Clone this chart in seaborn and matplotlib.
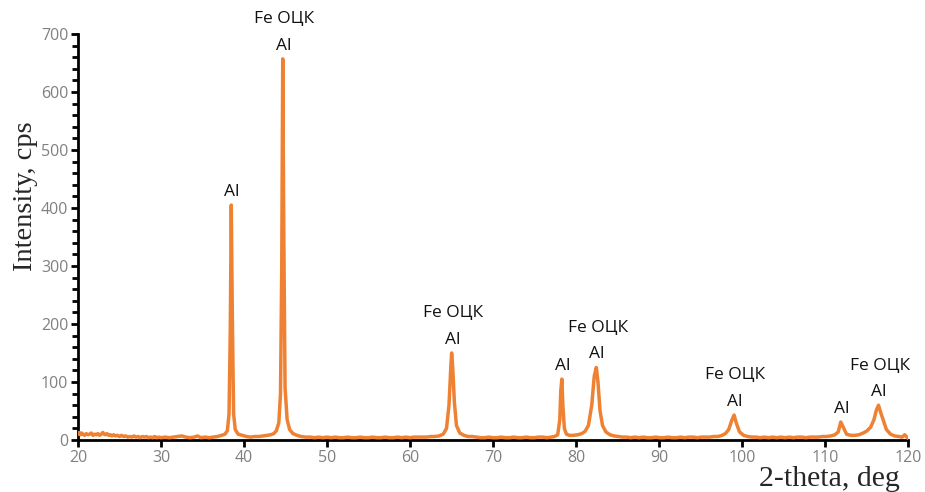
import matplotlib
matplotlib.use("Agg")
import matplotlib.pyplot as plt
from matplotlib.ticker import MultipleLocator
import seaborn as sns
import pandas as pd

# XRD pattern (2-theta in deg, intensity in cps)
two_theta = [
    20.0, 20.15, 20.3, 20.45, 20.6, 20.8, 21.0, 21.2, 21.4, 21.6, 21.8, 22.0, 22.2, 22.4,
    22.6, 22.8, 23.0, 23.15, 23.3, 23.5, 23.7, 23.9, 24.1, 24.3, 24.5, 24.75, 25.0,
    25.25, 25.5, 25.75, 26.0, 26.25, 26.5, 26.75, 27.0, 27.25, 27.5, 27.75, 28.0, 28.25,
    28.5, 28.75, 29.0, 29.25, 29.5, 29.75, 30.0, 30.5, 31.0, 31.5, 32.0,
    32.5, 33.0, 33.5, 34.0, 34.4, 34.8, 35.3, 35.8, 36.3, 36.8, 37.3, 37.7, 38.0, 38.2,
    38.35, 38.47, 38.6, 38.75, 38.95, 39.3, 39.8, 40.3, 40.8, 41.3, 41.8, 42.3, 42.8,
    43.2, 43.6, 43.9, 44.2, 44.4, 44.55, 44.67, 44.8, 44.95, 45.2, 45.5, 45.9, 46.4,
    46.9, 47.4, 48.0, 48.5, 49.0, 49.5, 50.0, 50.5, 51.0, 51.5, 52.0, 52.5, 53.0, 53.5,
    54.0, 54.5, 55.0, 55.5, 56.0, 56.5, 57.0, 57.5, 58.0, 58.5, 59.0, 59.5, 60.0, 60.5,
    61.0, 61.5, 62.0, 62.5, 63.0, 63.5, 64.0, 64.4, 64.7, 64.9, 65.02, 65.15, 65.35,
    65.6, 66.0, 66.5, 67.0, 67.5, 68.0, 68.5, 69.0, 69.5, 70.0, 70.5, 71.0, 71.5, 72.0,
    72.5, 73.0, 73.5, 74.0, 74.5, 75.0, 75.5, 76.0, 76.5, 77.0, 77.4, 77.8, 78.05,
    78.17, 78.3, 78.42, 78.6, 78.85, 79.2, 79.7, 80.2, 80.7, 81.1, 81.5, 81.9, 82.2,
    82.45, 82.65, 82.9, 83.2, 83.6, 84.1, 84.6, 85.1, 85.6, 86.1, 86.6, 87.1, 87.6,
    88.1, 88.6, 89.1, 89.6, 90.1, 90.6, 91.1, 91.6, 92.1, 92.6, 93.1, 93.6, 94.1, 94.6,
    95.1, 95.6, 96.1, 96.6, 97.1, 97.6, 98.0, 98.4, 98.8, 99.05, 99.3, 99.7, 100.2,
    100.7, 101.2, 101.7, 102.2, 102.7, 103.2, 103.7, 104.2, 104.7, 105.2, 105.7, 106.2,
    106.7, 107.2, 107.7, 108.2, 108.7, 109.2, 109.7, 110.2, 110.7, 111.2, 111.6, 111.9,
    112.2, 112.6, 113.1, 113.6, 114.1, 114.6, 115.0, 115.5, 115.9, 116.2, 116.45, 116.7,
    117.0, 117.4, 117.9, 118.4, 118.9, 119.3, 119.6, 120.0,
]
intensity = [
    10, 13, 9, 12, 10, 8, 11, 9, 10, 12, 8, 10, 9, 11,
    8, 10, 13, 10, 9, 11, 8, 9, 7, 9, 7, 8, 6,
    8, 6, 7, 5, 6, 5, 7, 5, 6, 4, 6, 5, 6,
    4, 5, 4, 6, 4, 5, 4, 5, 4, 5, 6,
    7, 5, 4, 5, 7, 4, 5, 4, 5, 6, 8, 10, 16, 45,
    190, 405, 210, 45, 18, 10, 8, 6, 5, 6, 6, 7, 8,
    9, 11, 16, 30, 80, 300, 657, 350, 90, 35, 18, 11, 8,
    6, 5, 5, 4, 5, 4, 5, 4, 5, 4, 4, 5, 4, 4,
    5, 4, 4, 5, 4, 4, 5, 4, 4, 5, 4, 5, 4, 5,
    5, 5, 5, 6, 6, 7, 10, 20, 60, 120, 150, 125, 65,
    25, 12, 8, 6, 6, 5, 4, 4, 5, 4, 4, 5, 4, 4,
    5, 4, 4, 5, 4, 4, 5, 5, 4, 5, 6, 9, 35,
    85, 105, 60, 20, 10, 8, 8, 9, 11, 15, 25, 60, 110,
    125, 100, 50, 25, 14, 9, 7, 6, 5, 5, 4, 5, 4,
    5, 4, 4, 5, 4, 4, 5, 4, 4, 5, 4, 5, 5, 4,
    5, 5, 5, 6, 6, 8, 11, 18, 35, 43, 30, 14, 8,
    6, 5, 5, 4, 5, 4, 5, 4, 5, 4, 5, 4,
    5, 5, 4, 5, 5, 5, 6, 6, 7, 9, 14, 31,
    22, 10, 8, 8, 9, 12, 15, 22, 35, 52, 60, 48,
    35, 18, 10, 7, 6, 5, 9, 3,
]

# phase labels placed above the peaks
peak_pos = [38.47, 44.67, 65.02, 78.3, 82.45, 99.05, 111.9, 116.45]
peak_top = [405, 657, 150, 105, 125, 43, 31, 60]
peak_fe = [False, True, True, False, True, True, False, True]

df = pd.DataFrame({"2theta": two_theta, "I": intensity})

sns.set_style("ticks")
plt.rcParams["font.family"] = ["Open Sans", "DejaVu Sans"]

fig = plt.figure(figsize=(9.25, 4.92), dpi=100)
ax = fig.add_axes([0.0843, 0.1057, 0.8973, 0.8253])

sns.lineplot(data=df, x="2theta", y="I", estimator=None, sort=False,
             color="#EF8133", linewidth=2.5, ax=ax, zorder=3)

for x, y, fe in zip(peak_pos, peak_top, peak_fe):
    ax.annotate("Al", (x, y), xytext=(0.5, 9.5), textcoords="offset points",
                ha="center", va="center", fontsize=12.5, color="#111111")
    if fe:
        ax.annotate("Fe ОЦК", (x, y), xytext=(1, 28.5), textcoords="offset points",
                    ha="center", va="center", fontsize=12.5, color="#111111",
                    annotation_clip=False)

ax.set_xlim(20, 120)
ax.set_ylim(0, 700)
ax.xaxis.set_major_locator(MultipleLocator(10))
ax.yaxis.set_major_locator(MultipleLocator(100))
ax.yaxis.set_minor_locator(MultipleLocator(20))

sns.despine(ax=ax)
for side in ["left", "bottom"]:
    ax.spines[side].set_linewidth(2.0)
    ax.spines[side].set_color("black")

ax.tick_params(axis="both", which="major", labelsize=11.5, labelcolor="#808080",
               color="black", width=2, length=5, pad=2)
ax.tick_params(axis="y", which="minor", color="black", width=2, length=4)

ax.set_xlabel("2-theta, deg", family=["Liberation Serif", "DejaVu Serif"],
              fontsize=21.5, loc="right", labelpad=0)
ax.xaxis.label.set_x(0.99)
ax.set_ylabel("Intensity, cps", family=["Liberation Serif", "DejaVu Serif"],
              fontsize=20.5, labelpad=2)
ax.yaxis.label.set_y(0.6)

fig.savefig("out.png", dpi=100)
